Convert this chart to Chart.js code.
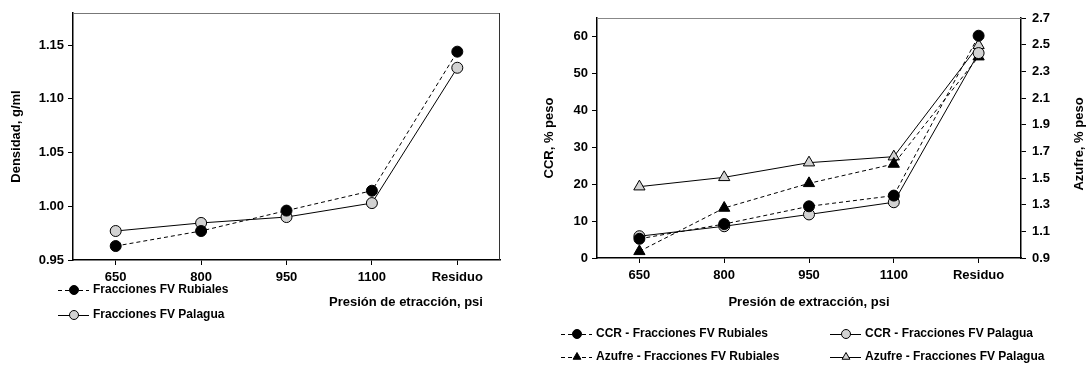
<!DOCTYPE html>
<html>
<head>
<meta charset="utf-8">
<script src="https://cdn.jsdelivr.net/npm/chart.js@4.4.1/dist/chart.umd.min.js"></script>
<style>
  body { margin: 0; background: #fff; }
  #wrap { position: relative; width: 1086px; height: 366px; }
  #c1 { position: absolute; left: 0; top: 0; }
  #c2 { position: absolute; left: 540px; top: 0; }
</style>
</head>
<body>
<div id="wrap">
  <canvas id="c1" width="540" height="366"></canvas>
  <canvas id="c2" width="546" height="366"></canvas>
</div>
<script>
// ---- data ----
const presiones = ['650', '800', '950', '1100', 'Residuo'];

const densRubiales = [0.963, 0.977, 0.996, 1.0145, 1.144];
const densPalagua  = [0.977, 0.9845, 0.990, 1.003, 1.129];
const densTicks = [0.95, 1.00, 1.05, 1.10, 1.15];

const ccrRubiales = [5.2, 9.2, 14.0, 16.9, 60.2];
const ccrPalagua  = [5.9, 8.6, 11.8, 15.1, 55.5];
const azufreRubiales = [0.95, 1.275, 1.46, 1.605, 2.41];
const azufrePalagua  = [1.435, 1.505, 1.615, 1.66, 2.495];
const ccrTicks = [0, 10, 20, 30, 40, 50, 60];
const azufreTicks = [0.9, 1.1, 1.3, 1.5, 1.7, 1.9, 2.1, 2.3, 2.5, 2.7];

const GRIS = '#d2d2d2';
const FONT = '"Liberation Sans", Arial, sans-serif';

Chart.defaults.font.family = FONT;
Chart.defaults.font.size = 13;
Chart.defaults.font.weight = 'bold';
Chart.defaults.color = '#000';

// top / right frame lines of the plot box
const framePlugin = {
  id: 'frame',
  afterDraw(chart, args, opts) {
    const { ctx, chartArea: a } = chart;
    ctx.save();
    ctx.lineWidth = 1;
    ctx.strokeStyle = opts.topColor || '#888';
    ctx.beginPath();
    ctx.moveTo(a.left, a.top + 0.5);
    ctx.lineTo(a.right, a.top + 0.5);
    ctx.stroke();
    if (opts.right) {
      ctx.strokeStyle = opts.rightColor || '#333';
      ctx.beginPath();
      ctx.moveTo(a.right - 0.5, a.top);
      ctx.lineTo(a.right - 0.5, a.bottom);
      ctx.stroke();
    }
    ctx.restore();
  }
};

// legend with line + marker samples, and loose texts
const sampleLegend = {
  id: 'sampleLegend',
  afterDraw(chart, args, opts) {
    const ctx = chart.ctx;
    ctx.save();
    chart.data.datasets.forEach((ds, i) => {
      const [x, y] = opts.spots[i];
      ctx.strokeStyle = '#000';
      ctx.lineWidth = 1;
      ctx.setLineDash(ds.borderDash || []);
      ctx.beginPath();
      ctx.moveTo(x, y + 0.5);
      ctx.lineTo(x + 31, y + 0.5);
      ctx.stroke();
      ctx.setLineDash([]);
      const mx = x + 16, r = 4.5;
      ctx.fillStyle = ds.pointBackgroundColor;
      ctx.beginPath();
      if (ds.pointStyle === 'triangle') {
        ctx.moveTo(mx, y - r);
        ctx.lineTo(mx + r * 0.87, y + r / 2);
        ctx.lineTo(mx - r * 0.87, y + r / 2);
        ctx.closePath();
      } else {
        ctx.arc(mx, y, r, 0, Math.PI * 2);
      }
      ctx.fill();
      ctx.stroke();
      ctx.fillStyle = '#000';
      ctx.font = 'bold 12px ' + FONT;
      ctx.textBaseline = 'middle';
      ctx.textAlign = 'left';
      ctx.fillText(ds.label, x + 35, y);
    });
    (opts.texts || []).forEach(t => {
      ctx.save();
      ctx.font = 'bold 13px ' + FONT;
      ctx.fillStyle = '#000';
      ctx.textAlign = 'center';
      ctx.textBaseline = 'middle';
      ctx.translate(t.x, t.y);
      if (t.rot) ctx.rotate(t.rot);
      ctx.fillText(t.text, 0, 0);
      ctx.restore();
    });
    ctx.restore();
  }
};

function serie(label, data, filled, dashed, style, axis) {
  return {
    label: label,
    data: data,
    yAxisID: axis || 'y',
    borderColor: '#000',
    borderWidth: 1,
    borderDash: dashed ? [4, 3] : [],
    pointStyle: style,
    pointRadius: style === 'triangle' ? 6.5 : 5.5,
    pointBackgroundColor: filled ? '#000' : GRIS,
    pointBorderColor: '#000',
    pointBorderWidth: 1,
    fill: false,
    tension: 0
  };
}

const ejeX = {
  offset: true,
  grid: { offset: false, drawOnChartArea: false, tickLength: 5, color: '#000' },
  border: { color: '#000', width: 1.5 },
  ticks: { padding: 5 }
};

// ================= DENSIDAD =================
new Chart(document.getElementById('c1'), {
  type: 'line',
  data: {
    labels: presiones,
    datasets: [
      serie('Fracciones FV Rubiales', densRubiales, true, true, 'circle'),
      serie('Fracciones FV Palagua', densPalagua, false, false, 'circle')
    ]
  },
  options: {
    responsive: false,
    animation: false,
    layout: { padding: { top: 13, right: 40, left: 0, bottom: 0 } },
    plugins: {
      legend: { display: false },
      tooltip: { enabled: false },
      frame: { topColor: '#777', right: true, rightColor: '#333' },
      sampleLegend: {
        spots: [[58, 290], [58, 315]],
        texts: [{ text: 'Presión de etracción, psi', x: 406, y: 302 }]
      }
    },
    scales: {
      x: Object.assign({}, ejeX, { afterFit(s) { s.height = 106; } }),
      y: {
        min: 0.95, max: 1.18,
        grid: { drawOnChartArea: false, tickLength: 5, color: '#000' },
        border: { color: '#000', width: 1.5 },
        afterBuildTicks(s) { s.ticks = densTicks.map(v => ({ value: v })); },
        ticks: { padding: 4, callback: v => v.toFixed(2) },
        title: { display: true, text: 'Densidad, g/ml', padding: { top: 9, bottom: 0 } },
        afterFit(s) { s.width = 73; }
      }
    }
  },
  plugins: [framePlugin, sampleLegend]
});

// ================= CCR / AZUFRE =================
new Chart(document.getElementById('c2'), {
  type: 'line',
  data: {
    labels: presiones,
    datasets: [
      serie('CCR - Fracciones FV Rubiales', ccrRubiales, true, true, 'circle', 'y'),
      serie('CCR - Fracciones FV Palagua', ccrPalagua, false, false, 'circle', 'y'),
      serie('Azufre - Fracciones FV Rubiales', azufreRubiales, true, true, 'triangle', 'y1'),
      serie('Azufre - Fracciones FV Palagua', azufrePalagua, false, false, 'triangle', 'y1')
    ]
  },
  options: {
    responsive: false,
    animation: false,
    layout: { padding: { top: 18, right: 0, left: 0, bottom: 0 } },
    plugins: {
      legend: { display: false },
      tooltip: { enabled: false },
      frame: { topColor: '#888', right: false },
      sampleLegend: {
        spots: [[21, 334], [290, 334], [21, 357], [290, 357]],
        texts: [{ text: 'Azufre, % peso', x: 539, y: 144, rot: -Math.PI / 2 }]
      }
    },
    scales: {
      x: Object.assign({}, ejeX, {
        title: { display: true, text: 'Presión de extracción, psi', padding: { top: 0, bottom: 56 } },
        afterFit(s) { s.height = 108; }
      }),
      y: {
        position: 'left',
        min: 0, max: 65,
        grid: { drawOnChartArea: false, tickLength: 5, color: '#000' },
        border: { color: '#000', width: 1.5 },
        afterBuildTicks(s) { s.ticks = ccrTicks.map(v => ({ value: v })); },
        ticks: { padding: 4 },
        title: { display: true, text: 'CCR, % peso', padding: { top: 2, bottom: 0 } },
        afterFit(s) { s.width = 57; }
      },
      y1: {
        position: 'right',
        min: 0.9, max: 2.7,
        grid: { drawOnChartArea: false, tickLength: 5, color: '#000' },
        border: { color: '#000', width: 1.5 },
        afterBuildTicks(s) { s.ticks = azufreTicks.map(v => ({ value: v })); },
        ticks: { padding: 6, callback: v => v.toFixed(1) },
        afterFit(s) { s.width = 65; }
      }
    }
  },
  plugins: [framePlugin, sampleLegend]
});
</script>
</body>
</html>
